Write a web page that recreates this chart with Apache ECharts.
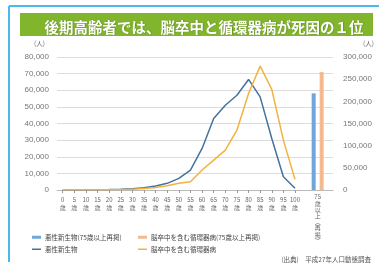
<!DOCTYPE html>
<html>
<head>
<meta charset="utf-8">
<script src="https://cdn.jsdelivr.net/npm/echarts@6/dist/echarts.min.js"></script>
<style>
  html, body { margin: 0; padding: 0; background: #fff; }
  #chart { width: 379px; height: 266px; }
</style>
</head>
<body>
<div id="chart"></div>
<script>
// 年齢階級（5歳刻み）
let ages = ['0', '5', '10', '15', '20', '25', '30', '35', '40', '45', '50',
  '55', '60', '65', '70', '75', '80', '85', '90', '95', '100'];
// 悪性新生物（人）
let cancerDeaths = [200, 150, 150, 200, 250, 400, 700, 1300, 2400, 4000, 7000,
  12000, 25000, 43000, 51000, 57000, 66500, 56000, 31000, 8000, 1000];
// 脳卒中を含む循環器病（人）
let circDeaths = [150, 100, 100, 150, 200, 300, 500, 900, 1500, 2500, 4000,
  5000, 12000, 18000, 24000, 36000, 58000, 74500, 60500, 30000, 6400];
// 75歳以上（再掲）
let cancer75 = 218000;
let circ75 = 266000;
let leftTicks = [0, 80000, 10000];
let rightTicks = [0, 300000, 50000];

let font = '"Noto Sans CJK JP", "Noto Sans", sans-serif';
let numFont = '"Liberation Sans Narrow", "Liberation Sans", sans-serif';
let blueLine = '#44729f';
let orangeLine = '#f2b23e';
let blueBar = '#6fa7da';
let orangeBar = '#f4b98c';

let barCats = ['', '', '', '', '', '', '', '', '75\n歳\n以\n上\n︵\n再\n掲\n︶'];
let lastIdx = barCats.length - 1;
let barData = function (v) {
  return barCats.map(function (c, i) { return i === lastIdx ? v : null; });
};

let chart = echarts.init(document.getElementById('chart'));

let legendItem = function (name, left, top, isBar) {
  return {
    data: [{name: name, icon: 'rect'}],
    left: left,
    top: top,
    itemWidth: 9,
    itemHeight: isBar ? 3 : 1.5,
    itemGap: 3,
    padding: 0,
    selectedMode: false,
    textStyle: {fontSize: 6.5, color: '#444', fontFamily: font, padding: [0, 0, 0, -1]}
  };
};

let option = {
  animation: false,
  backgroundColor: '#fff',
  title: {
    text: '後期高齢者では、脳卒中と循環器病が死因の１位',
    left: 199,
    top: 15,
    textAlign: 'center',
    textStyle: {
      color: '#fff',
      fontSize: 14.5,
      fontWeight: 'bold',
      fontFamily: font,
      textShadowColor: 'rgba(60,80,20,0.6)',
      textShadowBlur: 1,
      textShadowOffsetX: 0.5,
      textShadowOffsetY: 0.5
    }
  },
  graphic: [
    {type: 'line', shape: {x1: 9, y1: 6, x2: 379, y2: 6}, style: {stroke: '#4cb8ee', lineWidth: 2}},
    {type: 'line', shape: {x1: 9, y1: 6, x2: 9, y2: 262}, style: {stroke: '#4cb8ee', lineWidth: 2}},
    {type: 'rect', z: -1, shape: {x: 20, y: 13, width: 353, height: 23}, style: {fill: '#80b52c'}},
    {type: 'text', left: 34, top: 40, style: {text: '(人)', fontSize: 6.5, fill: '#666', fontFamily: font}},
    {type: 'text', left: 363, top: 40, style: {text: '(人)', fontSize: 6.5, fill: '#666', fontFamily: font}},
    {type: 'text', right: 8, top: 256, style: {text: '(出典)　平成27年人口動態調査', fontSize: 6.5, fill: '#555', fontFamily: font}}
  ],
  legend: [
    legendItem('悪性新生物(75歳以上再掲)', 32, 234, true),
    legendItem('脳卒中を含む循環器病(75歳以上再掲)', 138, 234, true),
    legendItem('悪性新生物', 32, 246, false),
    legendItem('脳卒中を含む循環器病', 138, 246, false)
  ],
  grid: [
    {left: 57, right: 46, top: 57, bottom: 76},
    {left: 62.7, right: 84, top: 57, bottom: 76}
  ],
  xAxis: [
    {
      type: 'category',
      gridIndex: 0,
      data: barCats,
      axisLine: {lineStyle: {color: '#bbb'}},
      axisTick: {show: false},
      axisLabel: {interval: 0, fontSize: 6, lineHeight: 6.2, color: '#666', fontFamily: font, margin: 4}
    },
    {
      type: 'category',
      gridIndex: 1,
      data: ages,
      boundaryGap: false,
      axisLine: {show: false},
      axisTick: {show: true, length: 3, lineStyle: {color: '#999'}},
      axisLabel: {
        interval: 0,
        fontSize: 6,
        lineHeight: 8,
        color: '#666',
        fontFamily: font,
        margin: 6,
        formatter: function (v) { return v + '\n歳'; }
      }
    }
  ],
  yAxis: [
    {
      type: 'value',
      gridIndex: 0,
      min: leftTicks[0],
      max: leftTicks[1],
      interval: leftTicks[2],
      axisLine: {show: false},
      axisTick: {show: false},
      splitLine: {lineStyle: {color: '#dcdcdc'}},
      axisLabel: {
        fontSize: 8,
        color: '#777',
        fontFamily: numFont,
        margin: 8,
        formatter: function (v) { return v.toLocaleString('en-US'); }
      }
    },
    {
      type: 'value',
      gridIndex: 0,
      position: 'right',
      min: rightTicks[0],
      max: rightTicks[1],
      interval: rightTicks[2],
      axisLine: {show: false},
      axisTick: {show: false},
      splitLine: {show: false},
      axisLabel: {
        fontSize: 8,
        color: '#777',
        fontFamily: numFont,
        margin: 10,
        formatter: function (v) { return v.toLocaleString('en-US'); }
      }
    },
    {
      type: 'value',
      gridIndex: 1,
      min: leftTicks[0],
      max: leftTicks[1],
      show: false,
      splitLine: {show: false}
    }
  ],
  series: [
    {
      name: '悪性新生物(75歳以上再掲)',
      type: 'bar',
      xAxisIndex: 0,
      yAxisIndex: 1,
      barWidth: 4,
      barGap: '100%',
      itemStyle: {color: blueBar},
      data: barData(cancer75)
    },
    {
      name: '脳卒中を含む循環器病(75歳以上再掲)',
      type: 'bar',
      xAxisIndex: 0,
      yAxisIndex: 1,
      barWidth: 4,
      itemStyle: {color: orangeBar},
      data: barData(circ75)
    },
    {
      name: '悪性新生物',
      type: 'line',
      xAxisIndex: 1,
      yAxisIndex: 2,
      symbol: 'none',
      lineStyle: {color: blueLine, width: 1.5},
      itemStyle: {color: blueLine},
      data: cancerDeaths
    },
    {
      name: '脳卒中を含む循環器病',
      type: 'line',
      xAxisIndex: 1,
      yAxisIndex: 2,
      symbol: 'none',
      lineStyle: {color: orangeLine, width: 1.5},
      itemStyle: {color: orangeLine},
      data: circDeaths
    }
  ]
};

chart.setOption(option);
</script>
</body>
</html>
